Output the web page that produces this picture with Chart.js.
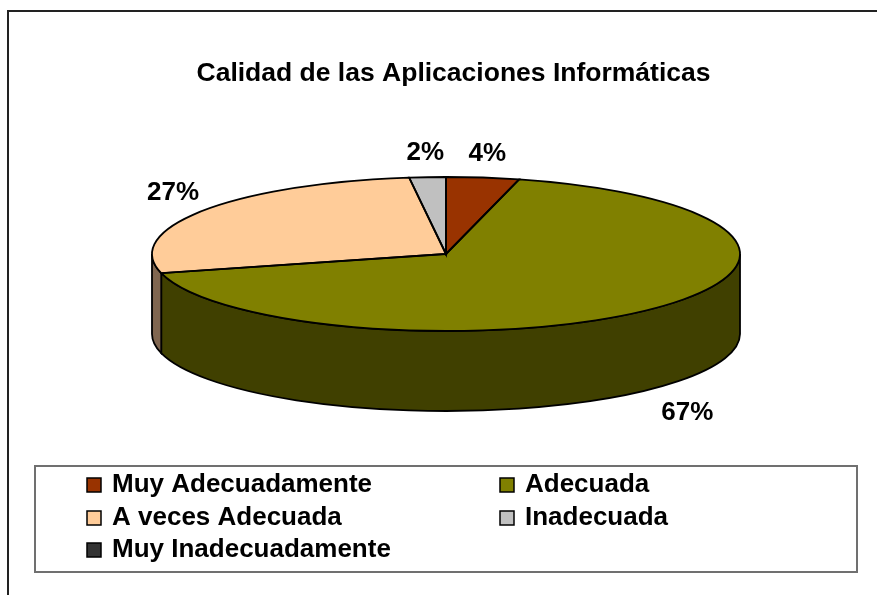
<!DOCTYPE html>
<html>
<head>
<meta charset="utf-8">
<title>Calidad de las Aplicaciones Informáticas</title>
<script src="https://cdn.jsdelivr.net/npm/chart.js@4.4.1/dist/chart.umd.min.js"></script>
<style>
  html, body { margin: 0; padding: 0; background: #fff; }
  #wrap { width: 877px; height: 595px; }
</style>
</head>
<body>
<div id="wrap"><canvas id="pieChart" width="877" height="595"></canvas></div>
<script>
// Survey answers, in percent
const categories = ['Muy Adecuadamente', 'Adecuada', 'A veces Adecuada', 'Inadecuada', 'Muy Inadecuadamente'];
const shares = [4, 67, 27, 2, 0];
const topColors = ['#993300', '#808000', '#FFCC99', '#C0C0C0', '#333333'];
const sideColors = ['#4d1a00', '#404000', '#806650', '#606060', '#1a1a1a'];

// where the flattened (3D look) pie sits on the page
const PIE = { cx: 446, cy: 254, rx: 294, ry: 77, depth: 80 };
const FONT = '"Liberation Sans", Arial, sans-serif';

function rim(a, dy) {
  return [PIE.cx + PIE.rx * Math.cos(a), PIE.cy + PIE.ry * Math.sin(a) + (dy || 0)];
}

// draws the side wall, squashes the library's arcs into an ellipse, adds outlines + % labels
const pie3d = {
  id: 'pie3d',
  beforeDatasetsDraw(chart) {
    const ctx = chart.ctx;
    const arcs = chart.getDatasetMeta(0).data;
    arcs.forEach((arc, i) => {
      const a0 = Math.max(arc.startAngle, 0), a1 = Math.min(arc.endAngle, Math.PI);
      if (a1 <= a0) return; // back half is hidden
      ctx.save();
      ctx.beginPath();
      ctx.ellipse(PIE.cx, PIE.cy, PIE.rx, PIE.ry, 0, a0, a1);
      const p = rim(a1, PIE.depth);
      ctx.lineTo(p[0], p[1]);
      ctx.ellipse(PIE.cx, PIE.cy + PIE.depth, PIE.rx, PIE.ry, 0, a1, a0, true);
      ctx.closePath();
      ctx.fillStyle = sideColors[i];
      ctx.fill();
      ctx.lineWidth = 1.8;
      ctx.strokeStyle = '#000';
      ctx.stroke();
      ctx.restore();
    });
    const first = arcs[0];
    ctx.save();
    ctx.translate(PIE.cx, PIE.cy);
    ctx.scale(PIE.rx / first.outerRadius, PIE.ry / first.outerRadius);
    ctx.translate(-first.x, -first.y);
  },
  afterDatasetsDraw(chart) {
    const ctx = chart.ctx;
    ctx.restore();
    const arcs = chart.getDatasetMeta(0).data;
    ctx.save();
    ctx.lineWidth = 1.8;
    ctx.strokeStyle = '#000';
    arcs.forEach(arc => {
      if (arc.endAngle - arc.startAngle <= 0) return;
      const p = rim(arc.startAngle);
      ctx.beginPath();
      ctx.moveTo(PIE.cx, PIE.cy);
      ctx.lineTo(p[0], p[1]);
      ctx.ellipse(PIE.cx, PIE.cy, PIE.rx, PIE.ry, 0, arc.startAngle, arc.endAngle);
      ctx.closePath();
      ctx.stroke();
    });
    // percent labels
    ctx.fillStyle = '#000';
    ctx.font = 'bold 26px ' + FONT;
    ctx.textAlign = 'center';
    ctx.textBaseline = 'middle';
    arcs.forEach((arc, i) => {
      if (shares[i] <= 0) return;
      const m = (arc.startAngle + arc.endAngle) / 2;
      const s = Math.sin(m);
      const lx = PIE.cx + (PIE.rx + 36) * Math.cos(m) + (s > 0 ? 8 : 0);
      const ly = PIE.cy + (PIE.ry + 14) * s + 10 * Math.sign(s) + (s > 0 ? PIE.depth + 4 : 0);
      ctx.fillText(shares[i] + '%', lx, ly);
    });
    ctx.restore();
  },
  afterDraw(chart) {
    const ctx = chart.ctx;
    ctx.save();
    // outer chart frame
    ctx.lineWidth = 2;
    ctx.strokeStyle = '#222';
    ctx.strokeRect(8, 11, 1000, 1000);
    // legend box
    ctx.strokeStyle = '#707070';
    ctx.strokeRect(35, 466, 822, 106);
    const colX = [87, 500], rowY = [492, 525, 557];
    ctx.font = 'bold 26px ' + FONT;
    ctx.textAlign = 'left';
    ctx.textBaseline = 'alphabetic';
    categories.forEach((name, i) => {
      const x = colX[i % 2], y = rowY[Math.floor(i / 2)];
      ctx.fillStyle = topColors[i];
      ctx.fillRect(x, y - 14, 14, 14);
      ctx.lineWidth = 1.5;
      ctx.strokeStyle = '#000';
      ctx.strokeRect(x, y - 14, 14, 14);
      ctx.fillStyle = '#000';
      ctx.fillText(name, x + 25, y);
    });
    ctx.restore();
  }
};

new Chart(document.getElementById('pieChart'), {
  type: 'pie',
  data: {
    labels: categories,
    datasets: [{
      data: shares,
      backgroundColor: topColors,
      borderWidth: 0,
      clip: false
    }]
  },
  options: {
    responsive: false,
    devicePixelRatio: 1,
    animation: false,
    layout: { padding: { left: 30 } },
    plugins: {
      legend: { display: false },
      tooltip: { enabled: false },
      title: {
        display: true,
        text: 'Calidad de las Aplicaciones Informáticas',
        color: '#000',
        font: { family: FONT, size: 26.5, weight: 'bold' },
        padding: { top: 58, bottom: 10 }
      }
    }
  },
  plugins: [pie3d]
});
</script>
</body>
</html>
